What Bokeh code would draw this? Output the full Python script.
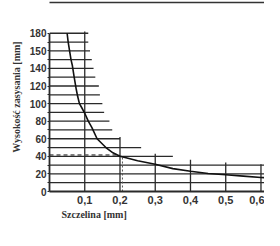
from bokeh.plotting import figure
from bokeh.models import FixedTicker, LinearAxis, Title, CustomJSTickFormatter, Range1d
from bokeh.embed import file_html
from bokeh.resources import INLINE

# --- data ---
x_ticks = [0.1, 0.2, 0.3, 0.4, 0.5, 0.6]
y_ticks = [0, 20, 40, 60, 80, 100, 120, 140, 160, 180]
y_tick_labels = {0: "0", 20: "20", 40: "40", 60: "60", 80: "80", 100: "100",
                 120: "120", 140: "140", 160: "150", 180: "180"}

# horizontal reading lines: level and where each ends (mm gap)
h_levels = [180, 170, 160, 150, 140, 130, 120, 110, 100, 90, 80, 70, 60, 50, 40, 30, 20, 10]
h_ends = [0.11, 0.11, 0.115, 0.12, 0.125, 0.13, 0.14, 0.143, 0.15, 0.155,
          0.17, 0.178, 0.2, 0.26, 0.35, 0.63, 0.63, 0.63]

# vertical lines at each gap value and their top height
v_pos = [0.1, 0.2, 0.3, 0.4, 0.5, 0.6]
v_tops = [182, 62, 43, 36, 33, 31]

# curve: suction height vs gap
gap = [0.05, 0.053, 0.057, 0.061, 0.065, 0.07, 0.076, 0.08, 0.085, 0.092, 0.1,
       0.11, 0.12, 0.135, 0.16, 0.18, 0.2, 0.22, 0.25, 0.3, 0.35, 0.4,
       0.45, 0.5, 0.55, 0.6, 0.625]
height = [180, 170, 160, 150, 143, 130, 116, 108, 100, 95, 89,
          80, 73, 60, 50, 44, 40, 38, 35, 31, 26, 23,
          20.5, 19, 17.5, 16, 15.5]

# reading example (dashed)
ex_gap = 0.2
ex_height = 41.5

INK = "#2a2a2a"

p = figure(width=264, height=230, output_backend="svg", toolbar_location=None,
           x_range=Range1d(0, 0.61), y_range=Range1d(0, 215),
           min_border_left=49, min_border_right=0, min_border_top=2, min_border_bottom=39)
p.xgrid.visible = False
p.ygrid.visible = False
p.outline_line_color = None
p.background_fill_color = "white"
p.border_fill_color = "white"

# horizontal lines
p.segment(x0=[0] * len(h_levels), y0=h_levels, x1=h_ends, y1=h_levels,
          line_color=INK, line_width=1.3)
# vertical lines
p.segment(x0=v_pos, y0=[0] * len(v_pos), x1=v_pos, y1=v_tops,
          line_color=INK, line_width=1.3)
# dashed reading example
p.line(x=[0, ex_gap], y=[ex_height, ex_height], line_color="#555555",
       line_width=1.3, line_dash="4 3")
p.line(x=[ex_gap + 0.007, ex_gap + 0.007], y=[0, 40], line_color="#555555",
       line_width=1.0, line_dash="2 2")
# curve
p.line(x=gap, y=height, line_color="#111111", line_width=1.6, line_join="round")

# x axis
xa = p.xaxis[0]
xa.ticker = FixedTicker(ticks=x_ticks)
xa.formatter = CustomJSTickFormatter(code="return tick.toFixed(1).replace('.', ',');")
xa.major_tick_out = 0
xa.major_tick_in = 0
xa.minor_tick_out = 0
xa.minor_tick_in = 0
xa.minor_tick_line_color = None
xa.major_label_standoff = 4
xa.major_label_text_font = "Liberation Sans"
xa.major_label_text_font_style = "bold"
xa.major_label_text_font_size = "11px"
xa.major_label_text_color = "#333333"
xa.axis_line_width = 1.8
xa.axis_line_color = INK

# y axis
ya = p.yaxis[0]
ya.ticker = FixedTicker(ticks=y_ticks, minor_ticks=[10, 30, 50, 70, 90, 110, 130, 150, 170])
ya.major_label_overrides = y_tick_labels
ya.bounds = (0, 180)
ya.major_tick_out = 2
ya.major_tick_in = 0
ya.minor_tick_out = 2
ya.minor_tick_in = 0
ya.major_tick_line_color = INK
ya.minor_tick_line_color = INK
ya.major_label_standoff = 1
ya.major_label_text_font = "Liberation Sans"
ya.major_label_text_font_style = "bold"
ya.major_label_text_font_size = "10px"
ya.major_label_text_color = "#333333"
ya.axis_line_width = 1.8
ya.axis_line_color = INK
ya.axis_label = "Wysokość zasysania [mm]"
ya.axis_label_text_font = "Liberation Serif"
ya.axis_label_text_font_style = "bold"
ya.axis_label_text_font_size = "10px"
ya.axis_label_text_color = "#333333"
ya.axis_label_standoff = 5

# top border line
top = LinearAxis(ticker=FixedTicker(ticks=[]), major_label_text_font_size="0px",
                 major_tick_line_color=None, minor_tick_line_color=None,
                 major_tick_out=0, major_tick_in=0, minor_tick_out=0, minor_tick_in=0,
                 major_label_standoff=0, axis_line_width=1.5, axis_line_color="#333333")
p.add_layout(top, "above")

# x axis title (left aligned like the reference)
p.add_layout(Title(text="Szczelina [mm]", align="left", offset=12,
                   text_font="Liberation Serif", text_font_style="bold",
                   text_font_size="10px", text_color="#333333", standoff=0), "below")

open("out.html", "w").write(file_html(p, INLINE))
